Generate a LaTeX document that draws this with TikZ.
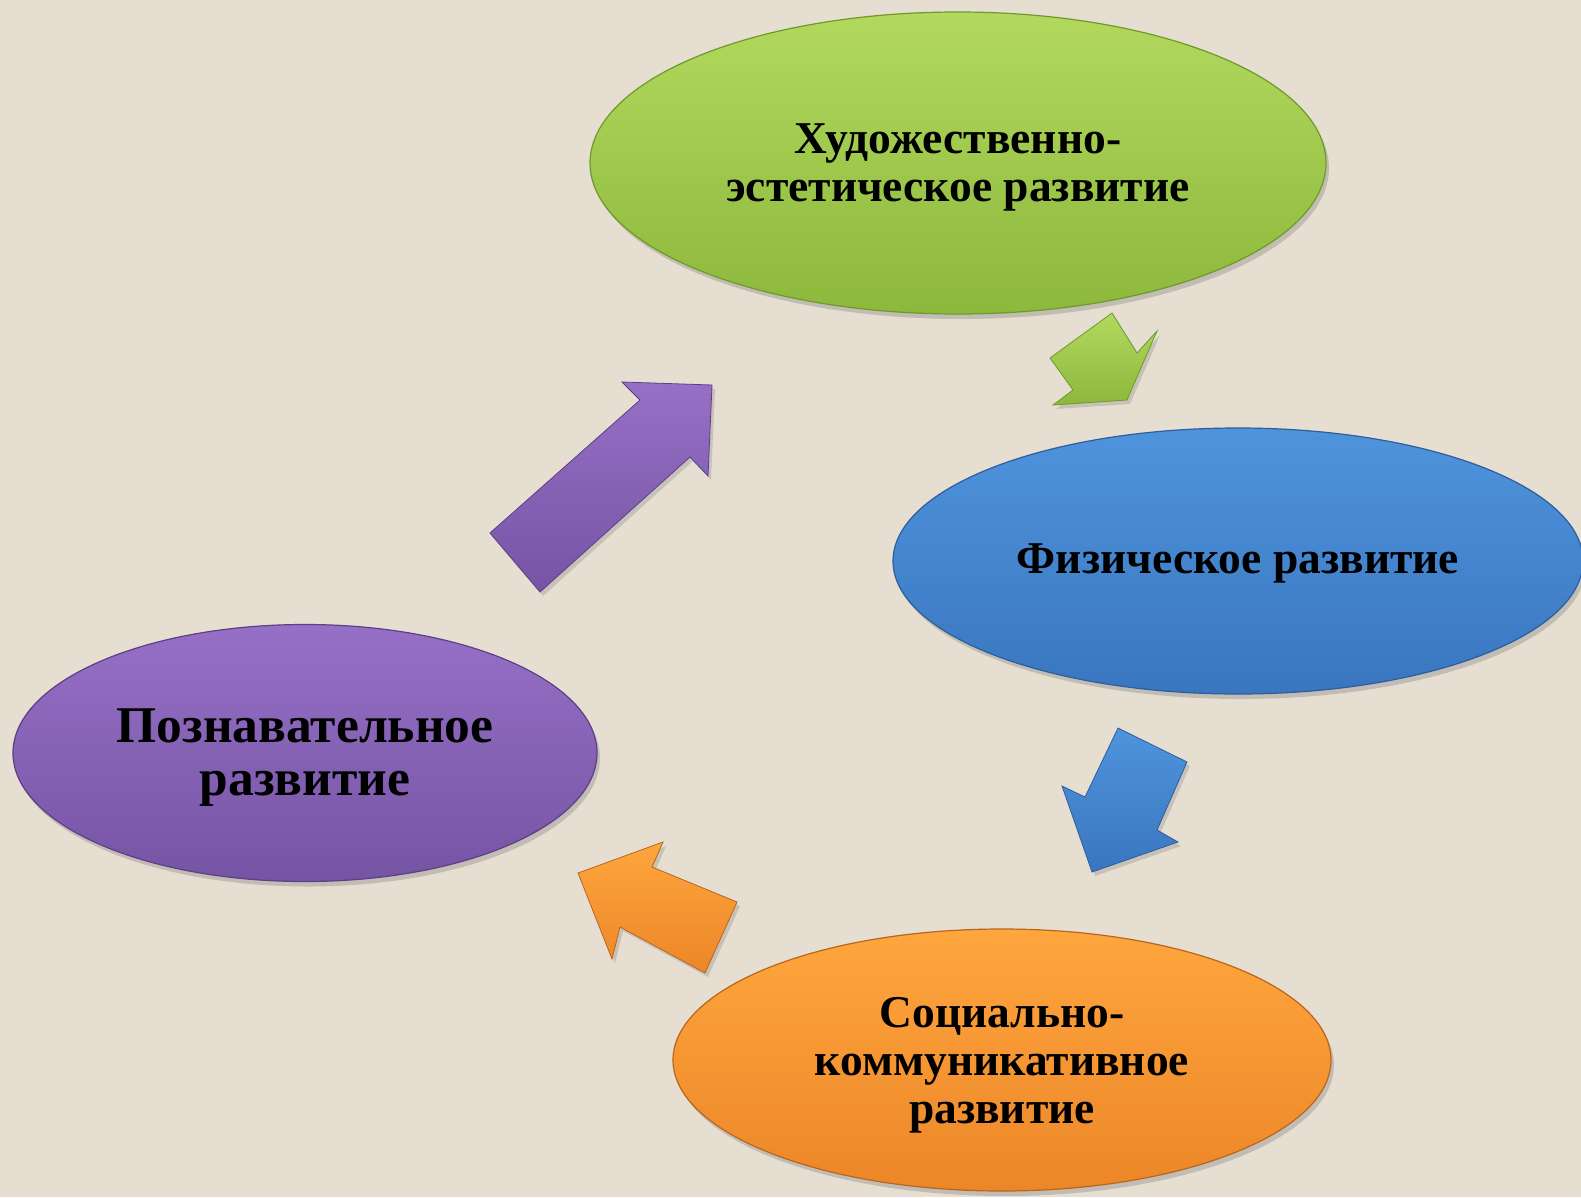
\documentclass[tikz,border=0pt]{standalone}
\usepackage{fontspec}
\setmainfont{Liberation Serif}
\usetikzlibrary{shapes.geometric,shadows}
\definecolor{bgc}{HTML}{E6DED1}
\definecolor{gtop}{HTML}{B2D95E}
\definecolor{gbot}{HTML}{8CB83C}
\definecolor{gline}{HTML}{6E9A2A}
\definecolor{btop}{HTML}{4E94DC}
\definecolor{bbot}{HTML}{3A76C0}
\definecolor{bline}{HTML}{2D5E9C}
\definecolor{ptop}{HTML}{9670C6}
\definecolor{pbot}{HTML}{7654A4}
\definecolor{pline}{HTML}{5C3F86}
\definecolor{otop}{HTML}{FFA63E}
\definecolor{obot}{HTML}{EC8628}
\definecolor{oline}{HTML}{B8661C}
\tikzset{
  blob/.style={ellipse, inner sep=0pt, line width=1.2pt,
    drop shadow={opacity=0.35, shadow xshift=3pt, shadow yshift=-5pt}},
  txt/.style={inner sep=0pt, align=center,
    font=\bfseries\fontsize{45.5}{48}\selectfont},
  blockarrow/.style={line width=0.8pt, line join=miter,
    drop shadow={opacity=0.3, shadow xshift=3pt, shadow yshift=-4pt}}
}
\begin{document}
\begin{tikzpicture}[x=1pt,y=-1pt]
\fill[bgc] (0,0) rectangle (1581,1197);
\useasboundingbox (0,0) rectangle (1581,1197);

% ellipses
\node[blob, top color=gtop, bottom color=gbot, draw=gline,
      minimum width=736pt, minimum height=302pt] (art) at (958,163) {};
\node[txt] (artT) at ([yshift=-4pt]art.center)
      {Художественно-\\эстетическое развитие};
\node[blob, top color=btop, bottom color=bbot, draw=bline,
      minimum width=690pt, minimum height=266pt] (phys) at (1238,561) {};
\node[txt] (physT) at ([yshift=-2pt]phys.center) {Физическое развитие};
\node[blob, top color=otop, bottom color=obot, draw=oline,
      minimum width=658pt, minimum height=262pt] (soc) at (1002,1060) {};
\node[txt] (socT) at ([yshift=-5pt]soc.center)
      {Социально-\\коммуникативное\\развитие};
\node[blob, top color=ptop, bottom color=pbot, draw=pline,
      minimum width=584pt, minimum height=257pt] (cog) at (305,753) {};
\node[txt, font=\bfseries\fontsize{51.5}{53}\selectfont] (cogT)
      at ([yshift=-5pt]cog.center) {Познавательное\\развитие};

% block arrows
\draw[blockarrow, top color=gtop, bottom color=gbot, draw=gline]
  (1112,313) -- (1137,353) -- (1157,331) -- (1127,400) -- (1053,405)
  -- (1073,390) -- (1050,358) -- cycle;
\draw[blockarrow, top color=btop, bottom color=bbot, draw=bline]
  (1118,728) -- (1187,762) -- (1157,830) -- (1178,842) -- (1092,872)
  -- (1062,786) -- (1085,797) -- cycle;
\draw[blockarrow, top color=otop, bottom color=obot, draw=oline]
  (737,902) -- (705,973) -- (620,927) -- (612,959) -- (578,873)
  -- (663,842) -- (652,867) -- cycle;
\draw[blockarrow, top color=ptop, bottom color=pbot, draw=pline]
  (490,533) -- (640,400) -- (622,382) -- (712,385) -- (708,476)
  -- (690,457) -- (540,592) -- cycle;
\end{tikzpicture}
\end{document}
